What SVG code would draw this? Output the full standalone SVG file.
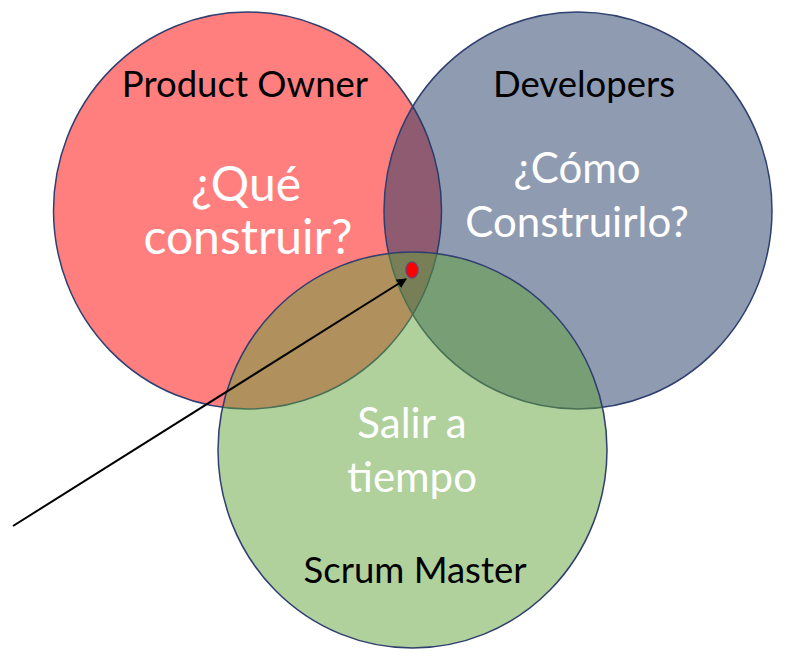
<svg xmlns="http://www.w3.org/2000/svg" width="786" height="659" viewBox="0 0 786 659">
  <defs>
    <marker id="ah" viewBox="0 0 10 10" refX="9" refY="5" markerWidth="5" markerHeight="5" orient="auto" markerUnits="strokeWidth">
      <path d="M0,0 L10,5 L0,10 z" fill="#000"/>
    </marker>
  </defs>
  <style>
    .c { stroke: #2F3F6F; stroke-width: 1.5; }
    .lbl { font-family: Lato, "Open Sans", sans-serif; font-size: 36.5px; fill: #000; text-anchor: middle; }
    .q { font-family: Lato, "Open Sans", sans-serif; font-size: 42px; fill: #fff; text-anchor: middle; }
    .qb { font-size: 48px; }
  </style>
  <rect width="786" height="659" fill="#fff"/>
  <g id="product-owner">
    <ellipse class="c" cx="247.5" cy="210.5" rx="194" ry="198.5" fill="rgba(255,0,0,0.5)"/>
  </g>
  <g id="developers">
    <ellipse class="c" cx="578" cy="210.5" rx="194" ry="198.5" fill="rgba(31,56,100,0.5)"/>
  </g>
  <g id="scrum-master">
    <ellipse class="c" cx="412.5" cy="450" rx="194.5" ry="198" fill="rgba(97,161,57,0.5)"/>
  </g>
  <g id="labels">
    <text class="lbl" x="245" y="97">Product Owner</text>
    <text class="q qb" x="246" y="201">¿Qué</text>
    <text class="q qb" x="248" y="254">construir?</text>
    <text class="lbl" x="584" y="97">Developers</text>
    <text class="q" x="577" y="183">¿Cómo</text>
    <text class="q" x="577" y="237">Construirlo?</text>
    <text class="q" x="412" y="438">Salir a</text>
    <text class="q" x="412" y="492">tiempo</text>
    <text class="lbl" x="415" y="583">Scrum Master</text>
  </g>
  <g id="center-dot">
    <ellipse cx="412" cy="270" rx="6" ry="8" fill="#FF0000" stroke="#7A3C6A" stroke-width="1.5"/>
  </g>
  <g id="connectors">
    <line x1="13" y1="526" x2="406" y2="279" stroke="#000" stroke-width="2" marker-end="url(#ah)"/>
  </g>
</svg>
